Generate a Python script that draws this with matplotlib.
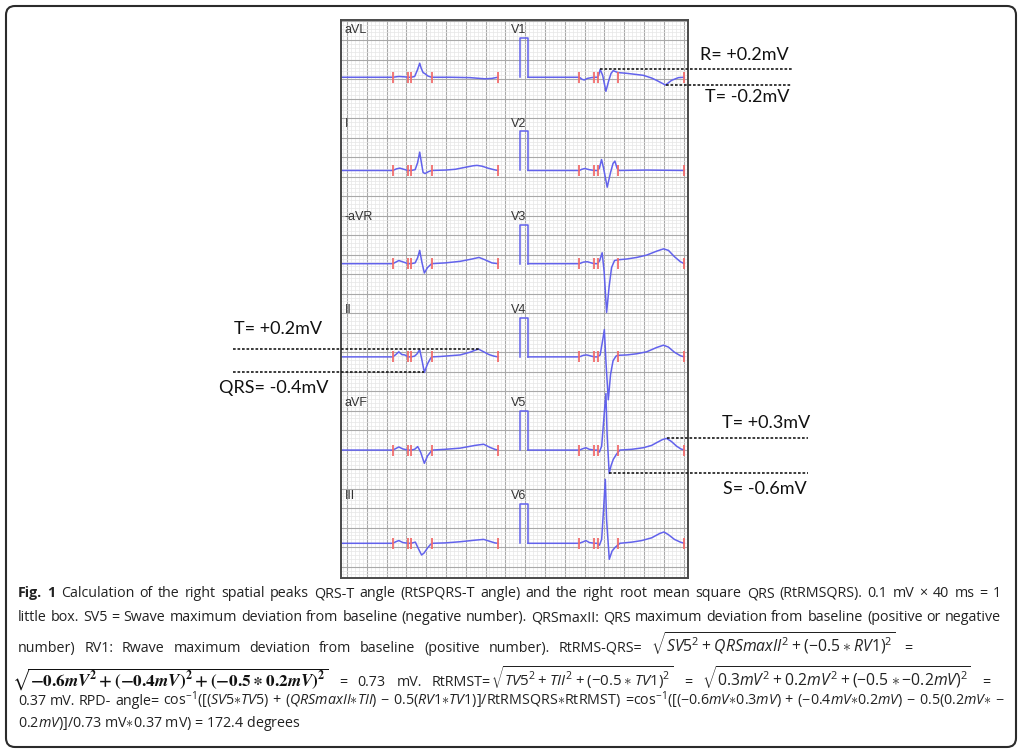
import re

import matplotlib
matplotlib.use("Agg")
import matplotlib.pyplot as plt
import numpy as np
from matplotlib.patches import FancyBboxPatch

plt.rcParams["mathtext.fontset"] = "custom"
plt.rcParams["mathtext.rm"] = "Open Sans"
plt.rcParams["mathtext.it"] = "Open Sans:italic"
plt.rcParams["mathtext.bf"] = "Open Sans:bold"

# ---------------- ECG data: (ms from trace start, mV) ----------------
LEFT_LEADS = ["aVL", "I", "-aVR", "II", "aVF", "III"]
RIGHT_LEADS = ["V1", "V2", "V3", "V4", "V5", "V6"]

# P onset, P offset, QRS onset, QRS offset, T end (ms)
MARKS_MS = [520, 672, 704, 912, 1580]
CAL_MV = 1.0
CAL_MS = 80

AVL = [(0, 0), (520, 0), (580, 0.02), (640, 0.01), (672, 0), (704, 0), (740, 0.02),
       (770, 0.2), (791, 0.36), (805, 0.24), (825, 0.12), (845, 0.09), (875, 0.03),
       (912, 0), (1100, 0), (1300, -0.01), (1450, -0.04), (1520, -0.03), (1580, 0)]
LEAD_I = [(0, 0), (520, 0), (555, 0.04), (590, 0.06), (630, 0.03), (672, 0), (704, 0),
          (745, 0.02), (770, 0.2), (791, 0.47), (808, 0.2), (825, -0.05), (845, -0.08),
          (880, -0.03), (912, 0), (1050, 0.01), (1150, 0.03), (1250, 0.08), (1330, 0.12),
          (1370, 0.13), (1420, 0.11), (1480, 0.06), (1540, 0.02), (1580, 0)]
NEG_AVR = [(0, 0), (520, 0), (580, 0.08), (640, 0.03), (672, 0), (704, 0), (745, 0.02),
           (770, 0.15), (791, 0.34), (812, 0.05), (838, -0.24), (870, -0.1), (912, 0),
           (1050, 0.02), (1200, 0.06), (1320, 0.12), (1390, 0.16), (1450, 0.1),
           (1520, 0.02), (1580, 0)]
LEAD_II = [(0, 0), (520, 0), (550, 0.06), (580, 0.13), (610, 0.06), (640, 0.05), (672, 0),
           (704, 0), (740, 0.02), (765, 0.08), (791, 0.19), (815, -0.1), (838, -0.4),
           (870, -0.18), (900, -0.04), (912, 0), (1000, 0.01), (1100, 0.03), (1200, 0.05),
           (1300, 0.12), (1350, 0.17), (1385, 0.2), (1430, 0.14), (1490, 0.06),
           (1540, 0.02), (1580, 0)]
AVF = [(0, 0), (520, 0), (550, 0.04), (580, 0.08), (620, 0.03), (672, 0), (704, 0),
       (740, 0.02), (771, 0.09), (800, -0.05), (838, -0.34), (870, -0.15), (916, 0),
       (1050, 0.02), (1200, 0.05), (1350, 0.12), (1437, 0.15), (1500, 0.07),
       (1550, 0.02), (1580, 0)]
LEAD_III = [(0, 0), (520, 0), (550, 0.04), (580, 0.07), (620, 0.02), (672, 0), (704, 0),
            (747, 0.03), (780, -0.15), (810, -0.3), (835, -0.25), (870, -0.12),
            (900, -0.03), (916, 0), (1050, 0.01), (1200, 0.04), (1350, 0.08), (1437, 0.1),
            (1500, 0.05), (1550, 0.01), (1580, 0)]
V1 = [(0, 0), (520, 0), (545, -0.05), (569, -0.07), (600, -0.03), (640, -0.01), (672, 0),
      (704, 0), (715, 0.05), (730, 0.2), (755, 0.05), (788, -0.36), (815, -0.1),
      (840, 0.1), (862, 0.17), (890, 0.14), (912, 0.12), (1000, 0.1), (1165, 0.05),
      (1250, -0.02), (1300, -0.08), (1390, -0.2), (1451, -0.08), (1520, -0.01), (1580, 0)]
V2 = [(0, 0), (520, 0), (545, 0.03), (575, 0.05), (620, 0.02), (672, 0), (704, 0),
      (722, 0.06), (744, 0.28), (765, 0.05), (801, -0.43), (835, -0.05), (860, 0.18),
      (879, 0.24), (900, 0.06), (922, 0), (1200, 0.01), (1580, 0)]
V3 = [(0, 0), (520, 0), (560, 0.04), (600, 0.05), (640, 0.02), (672, 0), (704, 0),
      (725, 0.08), (750, 0.28), (770, -0.2), (795, -1.25), (820, -0.6), (845, -0.1),
      (875, 0.08), (912, 0.1), (1000, 0.12), (1100, 0.16), (1200, 0.22), (1300, 0.32),
      (1370, 0.38), (1420, 0.34), (1480, 0.18), (1540, 0.05), (1580, 0)]
V4 = [(0, 0), (520, 0), (560, 0.04), (595, 0.05), (640, 0.02), (672, 0), (704, 0),
      (730, 0.05), (760, 0.5), (772, 0.7), (790, -0.2), (812, -1.1), (835, -0.45),
      (860, -0.1), (890, 0.02), (912, 0.04), (1000, 0.05), (1100, 0.08), (1200, 0.13),
      (1300, 0.24), (1370, 0.3), (1420, 0.25), (1480, 0.12), (1540, 0.03), (1580, 0)]
V5 = [(0, 0), (520, 0), (560, 0.04), (586, 0.06), (620, 0.02), (672, 0), (704, 0),
      (722, -0.05), (745, 0.1), (770, 0.9), (788, 1.45), (800, 0.4), (821, -0.6),
      (840, -0.4), (862, -0.24), (896, -0.1), (929, 0), (1050, 0.02), (1165, 0.06),
      (1250, 0.12), (1300, 0.19), (1360, 0.27), (1401, 0.3), (1450, 0.22), (1502, 0.1),
      (1545, 0.03), (1580, 0)]
V6 = [(0, 0), (520, 0), (560, 0.04), (586, 0.07), (620, 0.02), (672, 0), (704, 0),
      (722, -0.05), (745, 0.1), (765, 0.9), (782, 1.64), (795, 0.6), (822, -0.41),
      (850, -0.2), (879, -0.11), (929, 0), (1050, 0.03), (1150, 0.07), (1250, 0.14),
      (1330, 0.25), (1374, 0.29), (1420, 0.22), (1480, 0.1), (1540, 0.03), (1580, 0)]

TRACES = {"aVL": AVL, "I": LEAD_I, "-aVR": NEG_AVR, "II": LEAD_II, "aVF": AVF,
          "III": LEAD_III, "V1": V1, "V2": V2, "V3": V3, "V4": V4, "V5": V5, "V6": V6}

# measured deflections used in the angle calculation (ms, mV)
V1_R = (730, 0.2)
V1_T = (1390, -0.2)
II_T = (1385, 0.2)
II_QRS = (838, -0.4)
V5_T = (1401, 0.3)
V5_S = (821, -0.6)

# ---------------- paper geometry (mm; 1 small box = 1 mm) ----------------
XLIM = (-1.5, 86.13)
YLIM = (-2.9, 140.18)
COL_X0 = [-1.4, 45.7]
ROW_BASE = [125.5, 101.6, 77.7, 53.8, 29.9, 6.0]

TRACE_COLOR = "#6262ec"
MARK_COLOR = "#f26d6d"

W, H = 1021, 751
fig = plt.figure(figsize=(W / 100, H / 100), dpi=100)
fig.patch.set_facecolor("white")

# full-figure canvas in pixel units for frame, labels and caption
canvas = fig.add_axes([0, 0, 1, 1])
canvas.set_xlim(0, W)
canvas.set_ylim(H, 0)
canvas.axis("off")
canvas.add_patch(FancyBboxPatch((6, 6), 1010, 741, boxstyle="round,pad=0,rounding_size=9",
                                fill=False, ec="#2b2b2b", lw=1.5))

ecg = fig.add_axes([341 / W, 1 - 578 / H, 347 / W, 558 / H])
ecg.set_xlim(*XLIM)
ecg.set_ylim(*YLIM)
ecg.set_xticks(np.arange(0, 86, 5))
ecg.set_xticks(np.arange(-1, 87, 1), minor=True)
ecg.set_yticks(np.arange(0, 141, 5))
ecg.set_yticks(np.arange(-2, 141, 1), minor=True)
ecg.tick_params(which="both", length=0, labelbottom=False, labelleft=False)
ecg.grid(which="minor", color="#e6e6e6", lw=0.5)
ecg.grid(which="major", color="#a9a9a9", lw=0.8)
ecg.set_axisbelow(True)
for sp in ecg.spines.values():
    sp.set_color("#4a4a4a")
    sp.set_linewidth(1.4)


def to_mm(points, x0, base):
    t = np.array([p[0] for p in points], dtype=float)
    v = np.array([p[1] for p in points], dtype=float)
    return x0 + t / 40.0, base + v * 10.0


for col, leads in enumerate([LEFT_LEADS, RIGHT_LEADS]):
    x0 = COL_X0[col]
    for row, lead in enumerate(leads):
        base = ROW_BASE[row]
        # calibration pulse
        cx, cy = to_mm([(-CAL_MS, 0), (-CAL_MS, CAL_MV), (0, CAL_MV), (0, 0)], x0, base)
        ecg.plot(cx, cy, color=TRACE_COLOR, lw=1.1)
        tx, ty = to_mm(TRACES[lead], x0, base)
        ecg.plot(tx, ty, color=TRACE_COLOR, lw=1.1, solid_joinstyle="round")
        mx, _ = to_mm([(m, 0) for m in MARKS_MS], x0, base)
        ecg.vlines(mx, base - 1.4, base + 1.4, color=MARK_COLOR, lw=1.3, zorder=3)
        lx = -0.5 if col == 0 else 41.4
        ecg.text(lx, base + 12, lead, fontsize=9, family="Liberation Sans", color="#333333",
                 va="center", ha="left")


def level_line(point, x0, base, x_from=None, x_to=None):
    px, py = to_mm([point], x0, base)
    a = px[0] if x_from is None else x_from
    b = px[0] if x_to is None else x_to
    ecg.plot([a, b], [py[0], py[0]], color="#1a1a1a", lw=1.2, ls=(0, (1.6, 1.1)),
             clip_on=False, zorder=4)


level_line(V1_R, COL_X0[1], ROW_BASE[0], x_to=112.4)
level_line(V1_T, COL_X0[1], ROW_BASE[0], x_to=112.4)
level_line(II_T, COL_X0[0], ROW_BASE[3], x_from=-28.8)
level_line(II_QRS, COL_X0[0], ROW_BASE[3], x_from=-28.8)
level_line(V5_T, COL_X0[1], ROW_BASE[4], x_to=116.4)
level_line(V5_S, COL_X0[1], ROW_BASE[4], x_to=116.4)

ANNOT_KW = dict(family="Lato", fontsize=13, color="#111111", va="center")
canvas.text(789, 55, "R= %+.1fmV" % V1_R[1], ha="right", **ANNOT_KW)
canvas.text(789, 97, "T= %+.1fmV" % V1_T[1], ha="right", **ANNOT_KW)
canvas.text(234, 329, "T= %+.1fmV" % II_T[1], ha="left", **ANNOT_KW)
canvas.text(219, 388, "QRS= %+.1fmV" % II_QRS[1], ha="left", **ANNOT_KW)
canvas.text(810, 423, "T= %+.1fmV" % V5_T[1], ha="right", **ANNOT_KW)
canvas.text(807, 489, "S= %+.1fmV" % V5_S[1], ha="right", **ANNOT_KW)

# ---------------- caption (justified) ----------------
CAP_FONT = "Open Sans"
CAP_SIZE = 10.3
CAP_COLOR = "#222222"
CAPTION_STYLES = {
    "plain": dict(family=CAP_FONT, fontsize=CAP_SIZE, color=CAP_COLOR),
    "bold": dict(family=CAP_FONT, fontsize=CAP_SIZE, color=CAP_COLOR, weight="bold"),
    "math": dict(family=CAP_FONT, fontsize=CAP_SIZE, color=CAP_COLOR),
    "math_m": dict(family=CAP_FONT, fontsize=10.8, color=CAP_COLOR),
    "math_l": dict(family=CAP_FONT, fontsize=11.3, color=CAP_COLOR),
    "serif": dict(fontsize=12.3, color="#111111", math_fontfamily="stix"),
}

renderer = fig.canvas.get_renderer()


def text_width(s, style):
    t = canvas.text(0, 0, s, **CAPTION_STYLES[style])
    w = t.get_window_extent(renderer).width
    t.remove()
    return w


SPACE_W = text_width("a a", "plain") - text_width("aa", "plain")


def caption_line(y, pieces, x0=18, x1=None):
    items = []
    space = False
    for text, style in pieces:
        if style in ("plain", "bold"):
            for part in re.split(r"(\s+)", text):
                if not part:
                    continue
                if part.isspace():
                    space = True
                    continue
                items.append((part, style, space))
                space = False
        else:
            items.append((text, style, space))
            space = False
    placed = []
    for text, style, sp in items:
        t = canvas.text(0, y, text, va="baseline", ha="left", **CAPTION_STYLES[style])
        placed.append((t, t.get_window_extent(renderer).width, sp))
    n_gaps = sum(1 for _, _, sp in placed[1:] if sp)
    gap = SPACE_W
    if x1 is not None and n_gaps:
        gap = max((x1 - x0 - sum(w for _, w, _ in placed)) / n_gaps, SPACE_W)
    x = x0
    for i, (t, w, sp) in enumerate(placed):
        if i and sp:
            x += gap
        t.set_x(x)
        x += w


caption_line(597, [("Fig. 1", "bold"),
                   (" Calculation of the right spatial peaks QRS-T angle (RtSPQRS-T angle) and the "
                    "right root mean square QRS (RtRMSQRS). 0.1 mV \u00d7 40 ms = 1", "plain")],
             x1=1001)
caption_line(621, [("little box. SV5 = Swave maximum deviation from baseline (negative number). "
                    "QRSmaxII: QRS maximum deviation from baseline (positive or negative", "plain")],
             x1=1001)
caption_line(652, [("number) RV1: Rwave maximum deviation from baseline (positive number). "
                    "RtRMS-QRS= ", "plain"),
                   (r"$\sqrt{SV5^2\:+\:QRSmaxII^2\:+\:(-0.5\:\ast\:RV1)^2}$", "math_l"),
                   (" =", "plain")],
             x1=912)
caption_line(686, [(r"$\sqrt{\mathbf{-0.6\mathbfit{mV}^2\:+\:(-0.4\mathbfit{mV})^2\:+\:"
                    r"(-0.5\:\ast\:0.2\mathbfit{mV})^2}}$", "serif"),
                   (" = 0.73 mV. RtRMST=", "plain"),
                   (r"$\sqrt{TV5^2\:+\:TII^2\:+\:(-0.5\:\ast\:TV1)^2}$", "math_m"),
                   (" = ", "plain"),
                   (r"$\sqrt{0.3mV^2\:+\:0.2mV^2\:+\:(-0.5\:\ast\:-0.2mV)^2}$", "math_l"),
                   (" =", "plain")],
             x0=12, x1=990)
caption_line(705, [("0.37 mV. RPD- angle= ", "plain"),
                   (r"cos$^{-1}([(SV5{\ast}TV5)\,+\,(QRSmaxII{\ast}TII)\,-\,0.5(RV1{\ast}TV1)]$"
                    r"/RtRMSQRS$\ast$RtRMST)", "math"),
                   (" ", "plain"),
                   (r"=cos$^{-1}([(-0.6mV{\ast}0.3mV)\,+\,(-0.4mV{\ast}0.2mV)\,-\,"
                    r"0.5(0.2mV{\ast}\,-$", "math")],
             x1=1001)
caption_line(727, [(r"$0.2mV)]$/0.73 mV$\ast$0.37 mV) = 172.4 degrees", "math")])

fig.savefig("out.png", dpi=100, facecolor="white")
